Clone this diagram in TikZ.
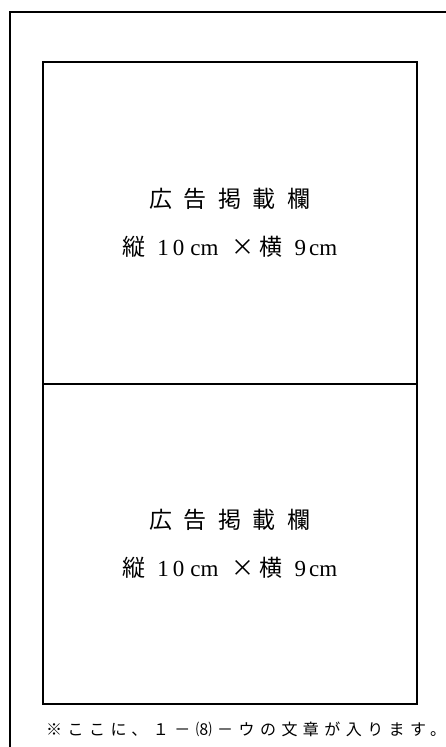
\documentclass[tikz,border=0pt]{standalone}
\usepackage{fontspec}
\newfontfamily\jp[LetterSpace=50]{Noto Sans CJK JP}
\newfontfamily\jpn{Noto Sans CJK JP}
\newfontfamily\jpnote[LetterSpace=34]{Noto Sans CJK JP}
\newfontfamily\num{Liberation Serif}
\usetikzlibrary{positioning}
% second line of each box: spacing set by hand
\newcommand{\sizeline}{{\jpn 縦}\hspace{12pt}{\num 1\hspace{4pt}0\hspace{6pt}cm}\hspace{13pt}{\jpn ×\hspace{5pt}横}\hspace{12pt}{\num 9\hspace{3pt}cm}}

\begin{document}
\begin{tikzpicture}[x=1pt,y=-1pt,
  adbox/.style={draw,line width=1.6pt,anchor=north west,inner sep=0pt,minimum width=374pt,
    align=center,font=\fontsize{23}{48}\selectfont},
  note/.style={anchor=west,inner sep=0pt,font=\jpnote\fontsize{16}{18}\selectfont}]
  \useasboundingbox (0,0) rectangle (445,747);
  \coordinate (fb) at (10,750);
  \coordinate (fr) at (447,12);
  \draw[line width=1.6pt] (fb) |- (fr);

  \node[adbox,minimum height=322pt] (ad1) at (42,61)
    {{\jp 広告掲載欄}\\\sizeline};
  \node[adbox,minimum height=320pt] (ad2) at (42,383)
    {{\jp 広告掲載欄}\\\sizeline};

  \node[note] (nt) at (46,729) {※ここに、１－⑻－ウの文章が入ります。};
\end{tikzpicture}
\end{document}
